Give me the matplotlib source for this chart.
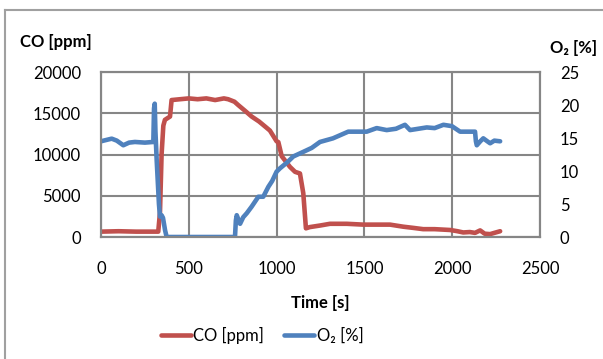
import matplotlib
matplotlib.use("Agg")
import matplotlib.pyplot as plt
from matplotlib.lines import Line2D

# ---- data ----
co_time = [0, 100, 200, 300, 326, 336, 345, 355, 364, 393, 402, 450, 500, 550, 600, 650, 700,
           724, 760, 781, 820, 858, 900, 934, 962, 1000, 1010, 1029, 1076, 1105, 1133, 1152,
           1167, 1189, 1250, 1304, 1400, 1493, 1560, 1646, 1721, 1780, 1835, 1900, 1988,
           2030, 2063, 2100, 2130, 2159, 2185, 2216, 2240, 2273]
co_ppm = [650, 700, 650, 650, 650, 3000, 10000, 13500, 14200, 14600, 16600, 16700, 16800,
          16700, 16800, 16600, 16800, 16700, 16400, 16000, 15300, 14600, 14000, 13400, 12900,
          11600, 11500, 9800, 8500, 7900, 7700, 5300, 1050, 1200, 1400, 1600, 1600, 1500,
          1500, 1500, 1250, 1100, 950, 950, 850, 700, 550, 600, 500, 800, 400, 350, 500, 700]

o2_time = [0, 30, 61, 90, 127, 160, 193, 250, 298, 302, 306, 310, 317, 330, 336, 345, 353,
           365, 374, 500, 650, 763, 768, 773, 792, 810, 830, 858, 896, 924, 953, 975, 1000,
           1019, 1060, 1095, 1152, 1200, 1247, 1321, 1408, 1513, 1570, 1627, 1680, 1731,
           1760, 1855, 1900, 1950, 1998, 2045, 2130, 2135, 2140, 2160, 2177, 2200, 2216,
           2240, 2273]
o2_pct = [14.5, 14.7, 14.9, 14.6, 13.9, 14.3, 14.4, 14.3, 14.4, 19.5, 20.2, 16.0, 11.7, 5.0,
          3.1, 3.3, 2.9, 1.0, 0.0, 0.0, 0.0, 0.0, 2.5, 3.3, 2.0, 3.0, 3.6, 4.6, 6.1, 6.1, 7.6,
          8.5, 9.9, 10.4, 11.3, 12.2, 12.9, 13.5, 14.4, 14.95, 15.96, 15.96, 16.5, 16.2, 16.4,
          17.0, 16.2, 16.6, 16.5, 17.0, 16.8, 15.96, 15.96, 14.5, 13.9, 14.5, 14.95, 14.5,
          14.2, 14.6, 14.5]

x_ticks = [0, 500, 1000, 1500, 2000, 2500]
co_ticks = [0, 5000, 10000, 15000, 20000]
o2_ticks = [0, 5, 10, 15, 20, 25]

RED = "#C0504D"
BLUE = "#4F81BD"
GRID = "#868686"
FS = 12

plt.rcParams["font.family"] = ["Lato", "DejaVu Sans"]

fig = plt.figure(figsize=(6.03, 3.59), dpi=100)
ax = fig.add_axes([101 / 603, 1 - 237 / 359, (540 - 101) / 603, (237 - 72) / 359])
ax2 = ax.twinx()

ax.plot(co_time, co_ppm, color=RED, lw=3.3, solid_capstyle="round", solid_joinstyle="round",
        label="CO [ppm]")
ax2.plot(o2_time, o2_pct, color=BLUE, lw=3.3, solid_capstyle="round", solid_joinstyle="round",
         label="O₂ [%]")

ax.set_xlim(0, 2500)
ax.set_ylim(0, 20000)
ax2.set_ylim(0, 25)
ax.set_xticks(x_ticks)
ax.set_yticks(co_ticks)
ax2.set_yticks(o2_ticks)
ax.set_xticklabels([str(v) for v in x_ticks])
ax.set_yticklabels([str(v) for v in co_ticks])
ax2.set_yticklabels([str(v) for v in o2_ticks])

ax.grid(True, color=GRID, lw=1.5)
ax.set_axisbelow(True)
for a in (ax, ax2):
    for s in a.spines.values():
        s.set_color(GRID)
        s.set_linewidth(1.5)
ax.tick_params(axis="both", length=0, labelsize=FS, colors="#000000")
ax.tick_params(axis="x", pad=17)
ax.tick_params(axis="y", pad=14.4)
ax2.tick_params(axis="y", length=0, labelsize=FS, pad=14.4)

ax.set_xlabel("Time [s]", fontsize=FS, fontweight="bold", labelpad=13)

fig.text(20 / 603, 1 - 42 / 359, "CO [ppm]", fontsize=FS, fontweight="bold",
         ha="left", va="center")
fig.text(597 / 603, 1 - 48 / 359, "O₂ [%]", fontsize=FS, fontweight="bold",
         ha="right", va="center")

h1, l1 = ax.get_legend_handles_labels()
h2, l2 = ax2.get_legend_handles_labels()
fig.legend(h1 + h2, l1 + l2, loc="center", bbox_to_anchor=(262 / 603, 1 - 335 / 359),
           ncol=2, frameon=False, fontsize=FS, handlelength=1.8, handletextpad=0.15,
           columnspacing=1.2)

fig.add_artist(Line2D([5 / 603, 5 / 603], [0, 1 - 10 / 359], color="#A0A0A0", lw=1.5,
                      transform=fig.transFigure))
fig.add_artist(Line2D([5 / 603, 1], [1 - 10 / 359, 1 - 10 / 359], color="#A0A0A0", lw=1.5,
                      transform=fig.transFigure))

fig.savefig("out.png", dpi=100)
